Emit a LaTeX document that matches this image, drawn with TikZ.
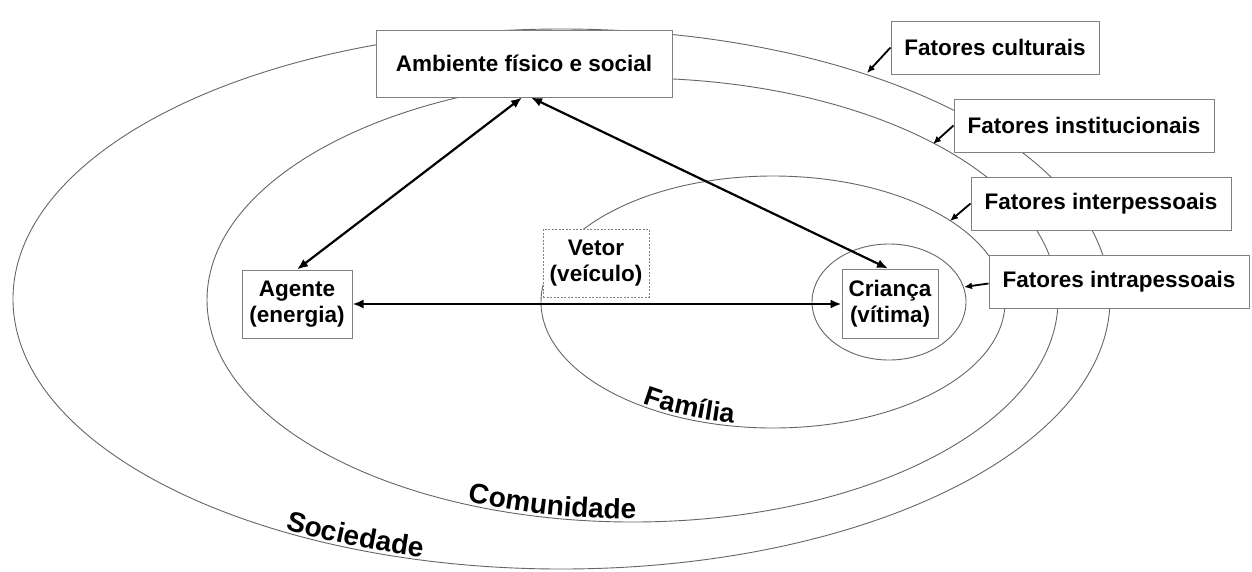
\documentclass[tikz,border=0pt]{standalone}
\usepackage{fontspec}
\setmainfont{Liberation Sans}
\usetikzlibrary{arrows.meta,decorations.text,calc}
\begin{document}
\begin{tikzpicture}[x=1pt,y=-1pt,
  ring/.style={draw=black!60, line width=0.9pt},
  box/.style={draw=black!50, line width=1pt, fill=white, inner sep=0pt, align=center,
    font=\bfseries\fontsize{22.5}{26}\selectfont},
  dbox/.style={box, dash pattern=on 2pt off 1.5pt},
  big/.style={line width=2.2pt, {Latex[length=11pt,width=9pt]}-{Latex[length=11pt,width=9pt]}},
  lab/.style={line width=1.8pt, -{Latex[length=8pt,width=7pt]}},
  curv/.style={decorate, decoration={text along path, text align=center, text={#1}}}
]
\useasboundingbox (0,0) rectangle (1252,571);
\fill[white] (0,0) rectangle (1252,571);

% rings
\draw[ring] (561.5,299) ellipse [x radius=548.5, y radius=270];
\draw[ring] (632.5,300) ellipse [x radius=425.5, y radius=222];
\draw[ring] (773,302) ellipse [x radius=232, y radius=126];
\draw[ring] (889,302) ellipse [x radius=77, y radius=58];

% curved labels
\path[curv={|\bfseries\fontsize{27}{30}\selectfont|Família}]
  plot[domain=0:1, samples=80] ({773+229*cos(153.5-76*\x)}, {302+123*sin(153.5-76*\x)});
\path[curv={|\bfseries\fontsize{28}{30}\selectfont|Comunidade}]
  plot[domain=0:1, samples=80] ({632.5+422.5*cos(143.2-80*\x)}, {300+219*sin(143.2-80*\x)});
\path[curv={|\bfseries\fontsize{28}{30}\selectfont|Sociedade}]
  plot[domain=0:1, samples=80] ({561.5+545.5*cos(142-55*\x)}, {299+267*sin(142-55*\x)});

% boxes
\node[box, minimum width=296pt, minimum height=67pt] (amb) at (524,63.5) {Ambiente físico e social};
\node[box, minimum width=208pt, minimum height=53pt] (cult) at (995,47.5) {Fatores culturais};
\node[box, minimum width=260pt, minimum height=53pt] (inst) at (1084,125.5) {Fatores institucionais};
\node[box, minimum width=260pt, minimum height=53pt] (inter) at (1101,203.5) {Fatores interpessoais};
\node[box, minimum width=260pt, minimum height=53pt] (intra) at (1119,281.5) {Fatores intrapessoais};
\node[box, minimum width=110pt, minimum height=68pt] (agente) at (297,304) {Agente\\(energia)};
\node[box, minimum width=96pt, minimum height=69pt] (crianca) at (890,303.5) {Criança\\(vítima)};
\node[dbox, minimum width=106pt, minimum height=68pt] (vetor) at (596,263) {Vetor\\(veículo)};

% main arrows
\draw[big] (agente.north) -- ([xshift=-2pt]amb.south);
\draw[big] ([xshift=-2pt]crianca.north) -- ([xshift=7pt]amb.south);
\draw[big] (agente.east) -- (agente.east -| crianca.west);

% label arrows
\coordinate (tc) at (867,73);
\coordinate (ti) at (933,144);
\coordinate (tp) at (950,221);
\coordinate (ta) at (964,287);
\draw[lab] (cult.west) -- (tc);
\draw[lab] (inst.west) -- (ti);
\draw[lab] (inter.west) -- (tp);
\draw[lab] ([yshift=-2pt]intra.west) -- (ta);
\end{tikzpicture}
\end{document}
